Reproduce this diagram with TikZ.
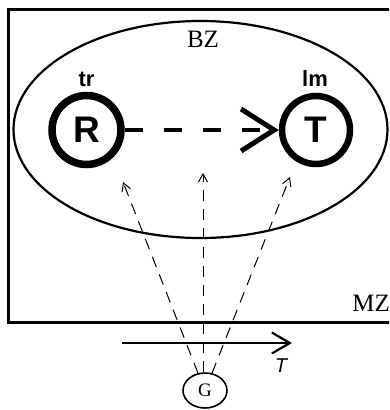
\documentclass[tikz,border=0pt]{standalone}
\usepackage{fontspec}
\setmainfont{Liberation Serif}
\setsansfont{Liberation Sans}
\usetikzlibrary{arrows.meta,shapes.geometric}
\begin{document}
\begin{tikzpicture}[x=1pt,y=-1pt,
  zonelabel/.style={inner sep=0pt,font=\fontsize{25}{27}\selectfont},
  agent/.style={circle,draw,inner sep=0pt,font=\sffamily\bfseries\fontsize{37}{39}\selectfont},
  rolelabel/.style={inner sep=0pt,font=\sffamily\bfseries\fontsize{22}{24}\selectfont},
  infl/.style={dashed,line width=1pt,dash pattern=on 11pt off 8pt,-{Straight Barb[length=8pt,width=9pt]}},
  relation/.style={line width=4pt,dash pattern=on 18pt off 21pt,-{Straight Barb[length=33pt,width=42pt,line width=5pt]}}]
\useasboundingbox (0,0) rectangle (389,410);
\clip (0,0) rectangle (389,410);
% MZ frame
\draw[line width=3pt] (400,9) -- (8,9) -- (8,322) -- (400,322);
% BZ ellipse
\draw[line width=2.2pt] (200.5,129.5) ellipse [x radius=187pt, y radius=108.5pt];
\node[zonelabel] (BZ) at (203,39) {BZ};
\node[zonelabel,anchor=east] (MZ) at (390,303.5) {MZ};
% agents
\node[agent,line width=7.5pt,minimum size=69pt] (R) at (86.5,130) {R};
\node[agent,line width=6.5pt,minimum size=68pt] (T) at (316,130) {T};
\node[rolelabel] (tr) at (86.5,79) {tr};
\node[rolelabel] (lm) at (315,79) {lm};
\draw[relation] (R.east) -- (T.west);
% G
\node[draw,ellipse,line width=1.6pt,minimum width=44pt,minimum height=35pt,inner sep=0pt] (G) at (205,390.5) {\fontsize{19}{21}\selectfont G};
\coordinate (a1) at (123,182);
\coordinate (a2) at (203,173);
\coordinate (a3) at (290,177);
\draw[infl] (G.112) -- (a1);
\draw[infl] ([xshift=-2pt]G.north) -- (a2);
\draw[infl] (G.68) -- (a3);
% time axis
\coordinate (t0) at (122,343);
\coordinate (t1) at (292,343);
\draw[line width=2.2pt,-{Straight Barb[length=18pt,width=21pt]}] (t0) -- (t1);
\node[inner sep=0pt,font=\sffamily\itshape\fontsize{20}{22}\selectfont] (Tl) at (281,366) {T};
\end{tikzpicture}
\end{document}
